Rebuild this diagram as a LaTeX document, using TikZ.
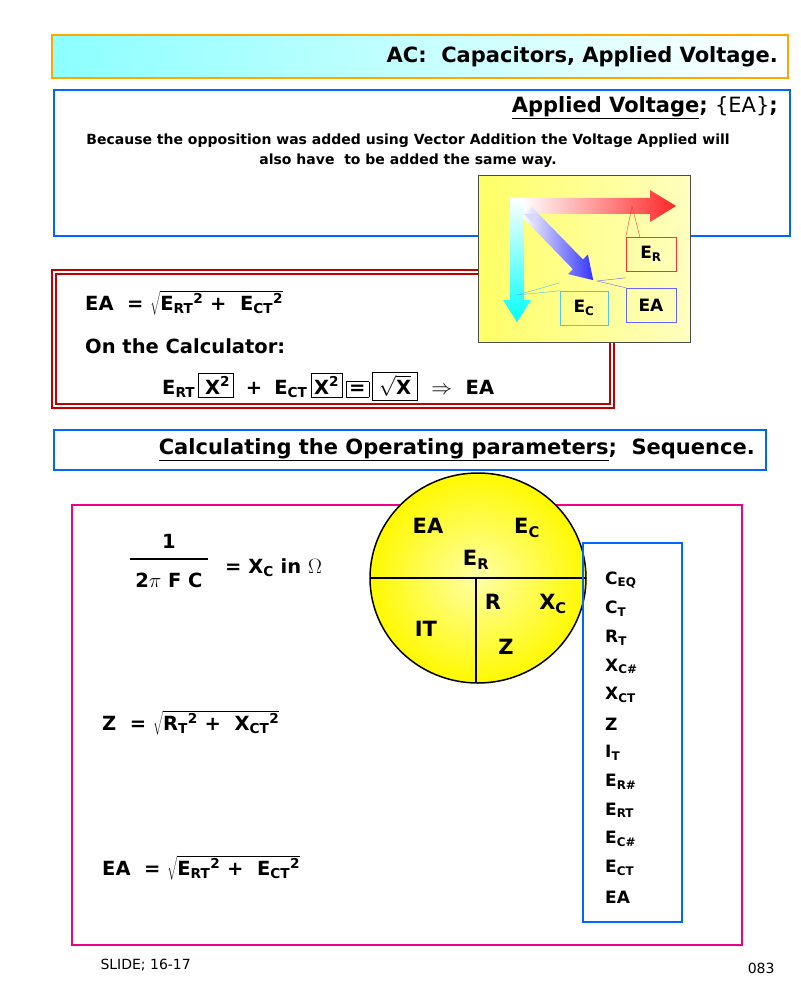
\documentclass[tikz,border=0pt]{standalone}
\usepackage{fontspec}
\setmainfont{DejaVu Sans}
\newcommand{\myul}[1]{\underline{#1}}
\setlength{\fboxsep}{3pt}
\begin{document}
\begin{tikzpicture}[x=1pt,y=-1pt,
  bx/.style={draw, line width=1.2pt},
  t/.style={font=\bfseries\fontsize{21}{24}\selectfont, inner sep=0pt},
  s/.style={font=\bfseries\fontsize{19.5}{22}\selectfont, inner sep=0pt},
  lab/.style={draw, minimum width=50pt, minimum height=34pt, font=\bfseries\fontsize{17}{19}\selectfont},
  li/.style={anchor=west, font=\bfseries\fontsize{17}{19}\selectfont, inner sep=0pt}]
\useasboundingbox (0,0) rectangle (800,1000);
% title
\path[left color=cyan!45, right color=white, draw=orange!70!yellow, line width=1.5pt] (52,35) rectangle (788,78);
\node[t, anchor=east] (title) at (778,57) {AC:\ \ Capacitors, Applied Voltage.};
% box 2
\draw[bx, draw=blue!60!cyan] (54,90) rectangle (790,236);
\node[t, anchor=east] (av) at (778,108) {\myul{Applied Voltage}; {\mdseries\{EA\}};};
\node[align=center, font=\bfseries\fontsize{14}{20}\selectfont] (because) at (408,151) {Because the opposition was added using Vector Addition the Voltage Applied will\\also have\ \ to be added the same way.};
% red box
\draw[red!75!black, line width=1.2pt] (52,270) rectangle (614,408);
\draw[red!75!black, line width=1.2pt] (56,274) rectangle (610,404);
\node[s, anchor=west] (f1) at (85,303) {EA\ \ = $\sqrt{\textbf{E\textsubscript{RT}\textsuperscript{2} +\ \ E\textsubscript{CT}\textsuperscript{2}}}$};
\node[s, anchor=west] (calc) at (85,346) {On the Calculator:};
\node[s, anchor=west] (calcline) at (162,386) {E\textsubscript{RT}\,\fbox{\,X\textsuperscript{2}} \;+\; E\textsubscript{CT}\,\fbox{X\textsuperscript{2}}\,\fbox{=}\,\fbox{\,$\sqrt{\textbf{X}}$\,}\ \ $\Rightarrow$\ \ EA};
% vector box
\path[left color=yellow!60, right color=yellow!25, draw=black!70, line width=1pt] (478,176) rectangle (690,342);
\shade[left color=white, right color=red!85] (522,198) -- (650,198) -- (650,190) -- (676,206) -- (650,222) -- (650,214) -- (522,214) -- cycle;
\shade[top color=white, bottom color=cyan] (510,198) -- (524,198) -- (524,300) -- (531,300) -- (517,322) -- (503,300) -- (510,300) -- cycle;
\shade[left color=white, right color=blue!80] (522,216.9) -- (572.9,269.2) -- (567.9,274.1) -- (593.2,280.1) -- (587.9,254.5) -- (582.9,259.4) -- (532,207.1) -- cycle;
\fill[blue!15] (524,214) -- (536,214) -- (536,226) -- cycle;
\node[lab, draw=red!80] (er) at (651,254) {E\textsubscript{R}};
\node[lab, draw=blue!60] (ea) at (651,305) {EA};
\node[lab, draw=cyan!70, minimum width=48pt] (ec) at (584,308) {E\textsubscript{C}};
\coordinate (erp) at (632,206);
\coordinate (eap) at (597,281);
\coordinate (ecp) at (517,295);
\draw[red!80] (erp) -- (er.north west) (erp) -- ([xshift=14pt]er.north west);
\draw[blue!60] (eap) -- (ea.north west) (eap) -- ([yshift=10pt]ea.north west);
\draw[cyan!70] (ecp) -- (ec.north west) (ecp) -- ([yshift=8pt]ec.north west);
% sequence header
\draw[bx, draw=blue!60!cyan] (54,430) rectangle (766,470);
\node[t, anchor=east] (seq) at (755,450) {\myul{Calculating the Operating parameters};\ \ Sequence.};
% magenta box
\draw[bx, draw=magenta] (72,505) rectangle (742,945);
% circle
\shade[inner color=yellow!35, outer color=yellow!95!orange, draw=black, line width=1.5pt] (478,578) ellipse (108 and 105);
\draw[line width=1.5pt] (370,578) -- (586,578);
\draw[line width=1.5pt] (476,578) -- (476,683);
\node[t] (cEA) at (428,526) {EA};
\node[t] (cEC) at (527,528) {E\textsubscript{C}};
\node[t] (cER) at (476,560) {E\textsubscript{R}};
\node[t] (cR) at (493,602) {R};
\node[t] (cXC) at (553,604) {X\textsubscript{C}};
\node[t] (cIT) at (426,629) {IT};
\node[t] (cZ) at (506,647) {Z};
% list
\draw[bx, draw=blue!60!cyan] (583,543) rectangle (682,922);
\foreach \i/\tx in {0/C\textsubscript{EQ},1/C\textsubscript{T},2/R\textsubscript{T},3/X\textsubscript{C\#},4/X\textsubscript{CT},5/Z,6/I\textsubscript{T},7/E\textsubscript{R\#},8/E\textsubscript{RT},9/E\textsubscript{C\#},10/E\textsubscript{CT},11/EA}
  \node[li] (l\i) at (605,{580+28.8*\i}) {\tx};
% formulas
\node[s] (one) at (169,541) {1};
\draw[line width=1.3pt] (130,559) -- (208,559);
\node[s] (den) at (169,580) {2$\pi$ F C};
\node[s, anchor=west] (xc) at (225,568) {= X\textsubscript{C} in $\Omega$};
\node[s, anchor=west] (zf) at (102,723) {Z\ \ = $\sqrt{\textbf{R\textsubscript{T}\textsuperscript{2} +\ \ X\textsubscript{CT}\textsuperscript{2}}}$};
\node[s, anchor=west] (eaf) at (102,868) {EA\ \ = $\sqrt{\textbf{E\textsubscript{RT}\textsuperscript{2} +\ \ E\textsubscript{CT}\textsuperscript{2}}}$};
\node[anchor=west, font=\fontsize{14}{16}\selectfont] (slide) at (97,965) {SLIDE; 16-17};
\node[anchor=east, font=\fontsize{14}{16}\selectfont] (num) at (778,968) {083};
\end{tikzpicture}
\end{document}
